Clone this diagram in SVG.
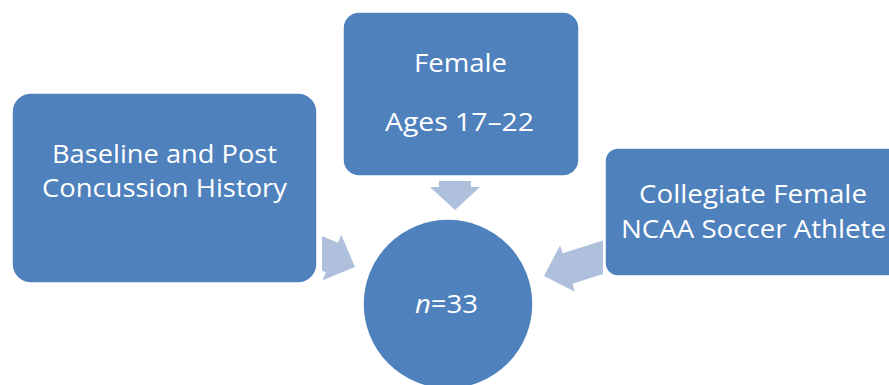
<svg xmlns="http://www.w3.org/2000/svg" width="889" height="385" viewBox="0 0 889 385">
<style>
.node{fill:#4F81BD;stroke:#FFFFFF;stroke-width:1.5}
.arrow{fill:#AFC0DC;stroke:none}
.t{font-family:"Open Sans","Liberation Sans",sans-serif;font-size:26px;fill:#FFFFFF;text-anchor:middle}
</style>
<rect width="889" height="385" fill="#FFFFFF"/>
<g id="connectors">
<polygon class="arrow" points="439,181 471,181 471,187 480,187 455,210 430,187 439,187"/>
<polygon class="arrow" points="322,236.1 338,242.7 341.2,234.8 355,267 322.6,280.2 325.8,272.3 322,270.7"/>
<polygon class="arrow" points="603,240.4 562.6,253.3 560.1,245.2 544,276 574.9,291.8 572.4,283.7 603,274"/>
</g>
<g id="node-history">
<rect class="node" x="12" y="93" width="305" height="190" rx="19"/>
<text class="t" x="164.5" y="163" textLength="225" lengthAdjust="spacingAndGlyphs">Baseline and Post</text>
<text class="t" x="164.5" y="197" textLength="245" lengthAdjust="spacingAndGlyphs">Concussion History</text>
</g>
<g id="node-female">
<rect class="node" x="343" y="12" width="236" height="164" rx="16"/>
<text class="t" x="460.5" y="72" textLength="93" lengthAdjust="spacingAndGlyphs">Female</text>
<text class="t" x="459.5" y="131" textLength="149" lengthAdjust="spacingAndGlyphs">Ages 17–22</text>
</g>
<g id="node-athlete">
<rect class="node" x="605" y="148" width="296" height="128" rx="13"/>
<text class="t" x="753" y="203" textLength="228" lengthAdjust="spacingAndGlyphs">Collegiate Female</text>
<text class="t" x="753.5" y="238" textLength="265" lengthAdjust="spacingAndGlyphs">NCAA Soccer Athlete</text>
</g>
<g id="node-n">
<circle class="node" cx="448" cy="304" r="85"/>
<text class="t" x="446.5" y="313" textLength="63" lengthAdjust="spacingAndGlyphs"><tspan font-style="italic">n</tspan>=33</text>
</g>
</svg>
